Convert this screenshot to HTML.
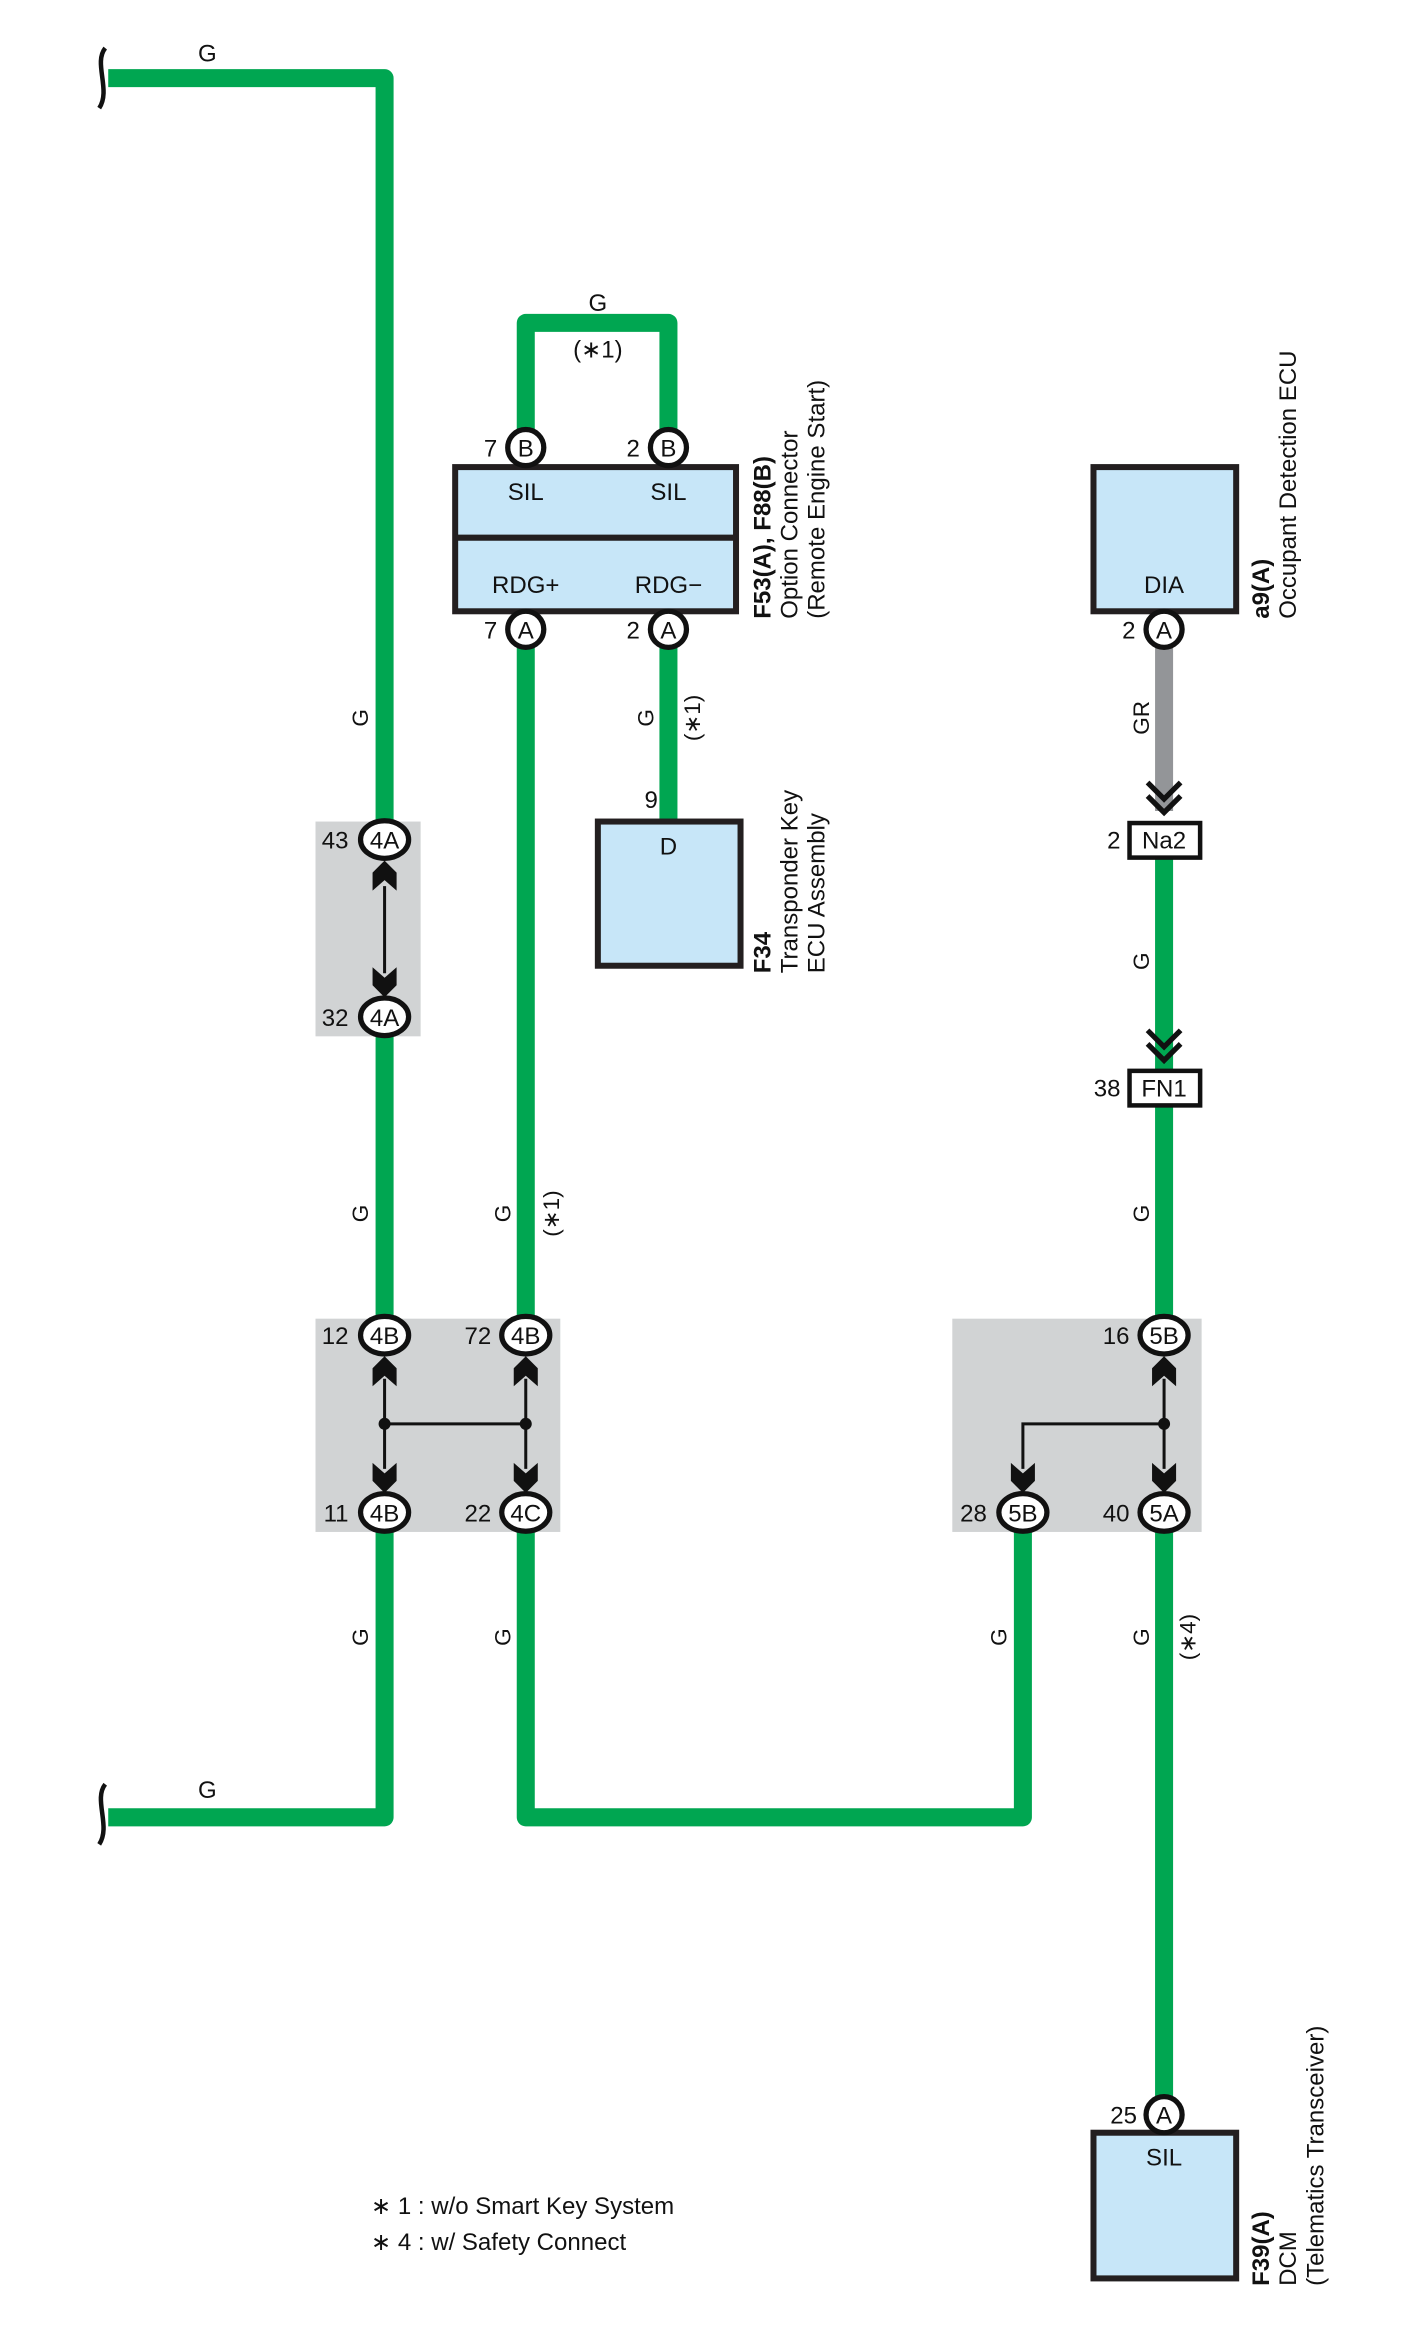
<!DOCTYPE html>
<html><head><meta charset="utf-8"><style>
html,body{margin:0;padding:0;background:#fff;}
svg{display:block;}
text{font-family:"Liberation Sans",sans-serif;fill:#111;}
</style></head><body>
<svg width="1424" height="2352" viewBox="0 0 948 1566" xmlns="http://www.w3.org/2000/svg">
<defs>
<polygon id="ad" points="-8,-20 0,-13 8,-20 8,-8 0,0 -8,-8" fill="#111"/>
<polygon id="au" points="-8,20 0,13 8,20 8,8 0,0 -8,8" fill="#111"/>
</defs>
<rect x="210" y="547" width="70" height="143" fill="#d1d3d4"/>
<rect x="210" y="878" width="163" height="142" fill="#d1d3d4"/>
<rect x="634" y="878" width="166" height="142" fill="#d1d3d4"/>

<g fill="none" stroke="#00a651" stroke-width="12" stroke-linejoin="round">
<polyline points="72,52 256,52 256,547"/>
<line x1="256" y1="690" x2="256" y2="878"/>
<polyline points="256,1020 256,1210 72,1210"/>
<polyline points="350,298 350,215 445,215 445,298"/>
<polyline points="350,419 350,878"/>
<polyline points="350,1020 350,1210 681,1210 681,1020"/>
<line x1="445" y1="419" x2="445" y2="547"/>
<line x1="775" y1="571" x2="775" y2="712"/>
<line x1="775" y1="736" x2="775" y2="878"/>
<line x1="775" y1="1020" x2="775" y2="1400"/>
</g>
<line x1="775" y1="419" x2="775" y2="540" stroke="#939598" stroke-width="12"/>

<path d="M70,32 C62,42 74,60 66,72" fill="none" stroke="#111" stroke-width="3"/>
<path d="M70,1188 C62,1198 74,1216 66,1228" fill="none" stroke="#111" stroke-width="3"/>

<g fill="none" stroke="#111" stroke-width="3.5">
<polyline points="764,521 775,532 786,521"/><polyline points="764,530 775,541 786,530"/>
<polyline points="764,686 775,697 786,686"/><polyline points="764,695 775,706 786,695"/>
</g>

<g stroke="#111" stroke-width="2" fill="none">
<line x1="256" y1="590" x2="256" y2="648"/>
<line x1="256" y1="918" x2="256" y2="978"/>
<line x1="350" y1="918" x2="350" y2="978"/>
<line x1="256" y1="948" x2="350" y2="948"/>
<line x1="775" y1="918" x2="775" y2="978"/>
<polyline points="775,948 681,948 681,978"/>
</g>
<circle cx="256" cy="948" r="4" fill="#111"/><circle cx="350" cy="948" r="4" fill="#111"/><circle cx="775" cy="948" r="4" fill="#111"/>
<use href="#au" x="256" y="573"/><use href="#ad" x="256" y="664"/>
<use href="#au" x="256" y="903"/><use href="#au" x="350" y="903"/><use href="#au" x="775" y="903"/>
<use href="#ad" x="256" y="994"/><use href="#ad" x="350" y="994"/><use href="#ad" x="681" y="994"/><use href="#ad" x="775" y="994"/>

<g stroke="#231f20" stroke-width="4" fill="#c7e6f8">
<rect x="303" y="311" width="187" height="96"/>
<rect x="398" y="547" width="95" height="96"/>
<rect x="728" y="311" width="95" height="96"/>
<rect x="728" y="1420" width="95" height="97"/>
</g>
<line x1="303" y1="358" x2="490" y2="358" stroke="#231f20" stroke-width="4"/>

<g stroke="#111" stroke-width="3" fill="#fff">
<rect x="752" y="548" width="47" height="23"/>
<rect x="752" y="713" width="47" height="23"/>
</g>

<g stroke="#111" stroke-width="3.5" fill="#fff">
<ellipse cx="350" cy="298" rx="12" ry="12"/><ellipse cx="445" cy="298" rx="12" ry="12"/>
<ellipse cx="350" cy="419" rx="12" ry="12"/><ellipse cx="445" cy="419" rx="12" ry="12"/>
<ellipse cx="775" cy="419" rx="12" ry="12"/><ellipse cx="775" cy="1408" rx="12" ry="12"/>
<ellipse cx="256" cy="559" rx="16" ry="12.5"/><ellipse cx="256" cy="677" rx="16" ry="12.5"/>
<ellipse cx="256" cy="889" rx="16" ry="12.5"/><ellipse cx="350" cy="889" rx="16" ry="12.5"/>
<ellipse cx="256" cy="1007" rx="16" ry="12.5"/><ellipse cx="350" cy="1007" rx="16" ry="12.5"/>
<ellipse cx="775" cy="889" rx="16" ry="12.5"/><ellipse cx="681" cy="1007" rx="16" ry="12.5"/><ellipse cx="775" cy="1007" rx="16" ry="12.5"/>
</g>

<g font-size="16" text-anchor="middle">
<text x="350" y="304">B</text><text x="445" y="304">B</text>
<text x="350" y="425">A</text><text x="445" y="425">A</text>
<text x="775" y="425">A</text><text x="775" y="1414">A</text>
<text x="256" y="565">4A</text><text x="256" y="683">4A</text>
<text x="256" y="895">4B</text><text x="350" y="895">4B</text>
<text x="256" y="1013">4B</text><text x="350" y="1013">4C</text>
<text x="775" y="895">5B</text><text x="681" y="1013">5B</text><text x="775" y="1013">5A</text>
<text x="775" y="565">Na2</text><text x="775" y="730">FN1</text>
<text x="350" y="333">SIL</text><text x="445" y="333">SIL</text>
<text x="350" y="395">RDG+</text><text x="445" y="395">RDG−</text>
<text x="445" y="569">D</text><text x="775" y="395">DIA</text><text x="775" y="1442">SIL</text>
<text x="138" y="41">G</text><text x="138" y="1197">G</text>
<text x="398" y="207">G</text><text x="398" y="238">(∗1)</text>
</g>
<g font-size="16" text-anchor="end">
<text x="331" y="304">7</text><text x="426" y="304">2</text>
<text x="331" y="425">7</text><text x="426" y="425">2</text>
<text x="756" y="425">2</text><text x="757" y="1414">25</text>
<text x="438" y="538">9</text>
<text x="232" y="565">43</text><text x="232" y="683">32</text>
<text x="232" y="895">12</text><text x="327" y="895">72</text>
<text x="232" y="1013">11</text><text x="327" y="1013">22</text>
<text x="752" y="895">16</text><text x="657" y="1013">28</text><text x="752" y="1013">40</text>
<text x="746" y="565">2</text><text x="746" y="730">38</text>
</g>

<g font-size="15" text-anchor="middle">
<text transform="translate(245,478) rotate(-90)">G</text>
<text transform="translate(245,808) rotate(-90)">G</text>
<text transform="translate(245,1090) rotate(-90)">G</text>
<text transform="translate(340,808) rotate(-90)">G</text>
<text transform="translate(372,808) rotate(-90)">(∗1)</text>
<text transform="translate(340,1090) rotate(-90)">G</text>
<text transform="translate(435,478) rotate(-90)">G</text>
<text transform="translate(466,478) rotate(-90)">(∗1)</text>
<text transform="translate(765,478) rotate(-90)">GR</text>
<text transform="translate(765,640) rotate(-90)">G</text>
<text transform="translate(765,808) rotate(-90)">G</text>
<text transform="translate(670,1090) rotate(-90)">G</text>
<text transform="translate(765,1090) rotate(-90)">G</text>
<text transform="translate(796,1090) rotate(-90)">(∗4)</text>
</g>

<g font-size="16">
<text transform="translate(513,412) rotate(-90)" font-weight="bold">F53(A), F88(B)</text>
<text transform="translate(531,412) rotate(-90)">Option Connector</text>
<text transform="translate(549,412) rotate(-90)">(Remote Engine Start)</text>
<text transform="translate(513,648) rotate(-90)" font-weight="bold">F34</text>
<text transform="translate(531,648) rotate(-90)">Transponder Key</text>
<text transform="translate(549,648) rotate(-90)">ECU Assembly</text>
<text transform="translate(845,412) rotate(-90)" font-weight="bold">a9(A)</text>
<text transform="translate(863,412) rotate(-90)">Occupant Detection ECU</text>
<text transform="translate(845,1522) rotate(-90)" font-weight="bold">F39(A)</text>
<text transform="translate(863,1522) rotate(-90)">DCM</text>
<text transform="translate(881,1522) rotate(-90)">(Telematics Transceiver)</text>
</g>
<g font-size="16">
<text x="247" y="1474">∗ 1 : w/o Smart Key System</text>
<text x="247" y="1498">∗ 4 : w/ Safety Connect</text>
</g>
</svg>
</body></html>
